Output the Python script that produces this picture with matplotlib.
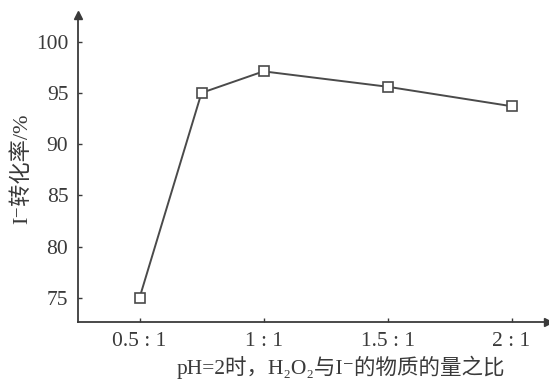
import matplotlib
matplotlib.use('Agg')
import matplotlib.pyplot as plt

# ratio of H2O2 to I- and conversion of I- (%)
ratio = [0.5, 0.75, 1.0, 1.5, 2.0]
conversion = [75.0, 95.0, 97.1, 95.6, 93.7]
xtick_pos = [0.5, 1.0, 1.5, 2.0]
xtick_labels = ['0.5 : 1', '1 : 1', '1.5 : 1', '2 : 1']
ytick_pos = [75, 80, 85, 90, 95, 100]

fonts = ['Liberation Serif', 'Noto Sans CJK SC', 'DejaVu Sans']
plt.rcParams['font.family'] = fonts
ink = '#3a3a3a'

fig = plt.figure(figsize=(5.49, 3.83), dpi=100)
ax = fig.add_axes([0.1421, 0.1593, 0.856, 0.8016])

ax.plot(ratio, conversion, color='#4a4a4a', lw=1.4, marker='s', ms=7,
        mfc='white', mec='#4a4a4a', mew=1.2, zorder=3)

ax.set_xlim(0.252, 2.147)
ax.set_ylim(72.65, 102.6)

for s in ['top', 'right']:
    ax.spines[s].set_visible(False)
for s in ['left', 'bottom']:
    ax.spines[s].set_color(ink)
    ax.spines[s].set_linewidth(1.3)

# arrow heads at the ends of the axes
ax.plot(1, 0, '>', color=ink, ms=6, transform=ax.transAxes, clip_on=False)
ax.plot(0, 1, '^', color=ink, ms=6, transform=ax.transAxes, clip_on=False)

ax.set_xticks(xtick_pos)
ax.set_xticklabels(xtick_labels)
ax.set_yticks(ytick_pos)
ax.tick_params(direction='in', length=3, width=1, color=ink, labelcolor=ink,
               labelsize=15.5, pad=7)

ax.set_xlabel('pH=2时，H₂O₂与I⁻的物质的量之比', fontsize=15.5, color=ink)
ax.xaxis.set_label_coords(0.56, -0.11)
ax.set_ylabel('I⁻转化率/%', fontsize=16, color=ink, labelpad=3)

fig.savefig('out.png', dpi=100)
